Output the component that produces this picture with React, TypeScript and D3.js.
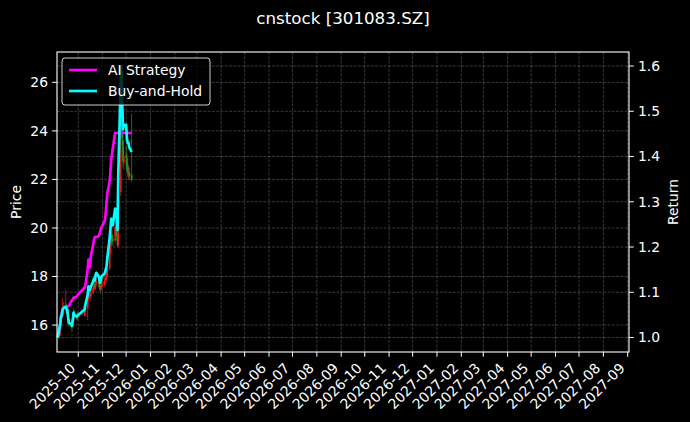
import React from 'react';
import * as d3 from 'd3';

const dates = [
	'2025-09-05', '2025-09-08', '2025-09-09', '2025-09-10', '2025-09-11', '2025-09-12', '2025-09-15', '2025-09-16',
	'2025-09-17', '2025-09-18', '2025-09-19', '2025-09-22', '2025-09-23', '2025-09-24', '2025-09-25', '2025-09-26',
	'2025-09-29', '2025-09-30', '2025-10-09', '2025-10-10', '2025-10-13', '2025-10-14', '2025-10-15', '2025-10-16',
	'2025-10-17', '2025-10-20', '2025-10-21', '2025-10-22', '2025-10-23', '2025-10-24', '2025-10-27', '2025-10-28',
	'2025-10-29', '2025-10-30', '2025-10-31', '2025-11-03', '2025-11-04', '2025-11-05', '2025-11-06', '2025-11-07',
	'2025-11-10', '2025-11-11', '2025-11-12', '2025-11-13', '2025-11-14', '2025-11-17', '2025-11-18', '2025-11-19',
	'2025-11-20', '2025-11-21', '2025-11-24', '2025-11-25', '2025-11-26', '2025-11-27', '2025-11-28', '2025-12-01',
	'2025-12-02', '2025-12-03', '2025-12-04', '2025-12-05', '2025-12-08'
];

const open = [
	15.75, 15.62, 16.05, 16.30, 16.36, 16.55, 16.62, 16.70, 16.62, 16.58, 16.28, 16.10, 16.05, 16.00, 16.20, 16.45,
	16.40, 16.30, 16.40, 16.55, 16.70, 17.10, 17.35, 17.30, 17.20, 17.35, 17.50, 17.65, 17.55, 17.75, 17.85, 17.70,
	17.60, 17.50, 17.60, 17.70, 17.80, 17.85, 17.95, 18.05, 18.35, 19.00, 19.35, 19.70, 19.55, 19.50, 20.05, 19.90,
	19.65, 19.30, 21.50, 24.60, 24.80, 23.60, 22.70, 23.00, 22.90, 22.50, 22.25, 22.30, 22.20
];
const high = [
	15.95, 16.20, 16.60, 16.55, 17.10, 16.95, 17.45, 16.90, 16.80, 16.70, 16.40, 16.25, 16.20, 16.30, 16.70, 16.60,
	16.50, 16.55, 16.80, 16.95, 17.25, 17.60, 17.55, 17.45, 17.50, 17.70, 17.80, 17.75, 17.90, 18.05, 17.95, 17.80,
	17.65, 17.75, 17.90, 17.95, 18.00, 18.10, 18.25, 18.50, 19.20, 19.60, 19.85, 19.90, 19.70, 20.20, 20.30, 20.00,
	19.75, 21.50, 25.46, 26.69, 25.20, 23.90, 23.30, 23.40, 23.10, 22.70, 22.60, 22.50, 24.70
];
const low = [
	15.45, 15.55, 15.98, 16.15, 16.30, 16.40, 16.50, 16.45, 16.40, 16.20, 15.95, 15.85, 15.70, 15.90, 16.15, 16.25,
	16.20, 16.20, 16.35, 16.45, 16.20, 17.00, 17.10, 17.05, 17.00, 17.25, 17.40, 17.45, 17.45, 17.65, 17.55, 17.45,
	17.30, 17.40, 17.50, 17.55, 17.60, 17.70, 17.85, 17.95, 18.25, 18.90, 19.20, 19.35, 19.25, 19.40, 19.80, 19.50,
	19.20, 19.20, 21.30, 24.20, 23.40, 22.50, 22.40, 22.60, 22.30, 22.10, 22.00, 21.95, 21.90
];
const close = [
	15.60, 16.07, 16.32, 16.38, 16.57, 16.61, 16.66, 16.60, 16.55, 16.30, 16.10, 16.07, 16.01, 16.19, 16.46, 16.38,
	16.32, 16.35, 16.57, 16.72, 17.08, 17.36, 17.28, 17.24, 17.35, 17.53, 17.63, 17.57, 17.75, 17.83, 17.71, 17.60,
	17.49, 17.63, 17.72, 17.78, 17.83, 17.94, 18.05, 18.33, 19.03, 19.34, 19.69, 19.50, 19.47, 20.05, 19.94, 19.69,
	19.31, 21.22, 24.34, 24.96, 23.71, 22.78, 22.93, 22.93, 22.46, 22.31, 22.31, 22.15, 22.00
];

const aiReturn = [
	1.000, 1.030, 1.046, 1.050, 1.062, 1.065, 1.068, 1.068, 1.068, 1.070, 1.070, 1.080, 1.082, 1.085, 1.088, 1.088,
	1.090, 1.094, 1.110, 1.115, 1.150, 1.172, 1.160, 1.155, 1.180, 1.205, 1.215, 1.222, 1.222, 1.222, 1.224, 1.228,
	1.235, 1.242, 1.245, 1.255, 1.260, 1.275, 1.297, 1.318, 1.345, 1.365, 1.395, 1.405, 1.418, 1.452, 1.452, 1.452,
	1.452, 1.452, 1.452, 1.452, 1.452, 1.452, 1.452, 1.452, 1.452, 1.452, 1.452, 1.452, 1.452
];
const bhReturn = [
	1.000, 1.030, 1.046, 1.050, 1.062, 1.065, 1.068, 1.064, 1.061, 1.045, 1.032, 1.030, 1.026, 1.038, 1.055, 1.050,
	1.046, 1.048, 1.062, 1.072, 1.095, 1.113, 1.108, 1.105, 1.112, 1.124, 1.130, 1.126, 1.138, 1.143, 1.135, 1.128,
	1.121, 1.130, 1.136, 1.140, 1.143, 1.150, 1.157, 1.175, 1.220, 1.240, 1.262, 1.250, 1.248, 1.285, 1.278, 1.262,
	1.238, 1.360, 1.560, 1.600, 1.520, 1.460, 1.470, 1.470, 1.440, 1.430, 1.430, 1.420, 1.410
];

const priceTicks = [16, 18, 20, 22, 24, 26];
const returnTicks = [1.0, 1.1, 1.2, 1.3, 1.4, 1.5, 1.6];
const seriesNames = ['AI Strategy', 'Buy-and-Hold'];
const seriesColors = ['#ff00ff', '#00ffff'];

class Chart extends React.Component {
	componentDidMount() {
		this.drawChart();
	}

	drawChart() {
		const W = 690;
		const H = 422;
		const left = 57, right = 629, top = 52, bottom = 352;
		const font = '"DejaVu Sans", sans-serif';

		const parse = d3.timeParse('%Y-%m-%d');
		const days = dates.map(d => parse(d) as Date);

		const x = d3.scaleTime()
			.domain([new Date(2025, 8, 3, 22), new Date(2027, 8, 2, 16)])
			.range([left, right]);
		const yPrice = d3.scaleLinear().domain([14.89, 27.25]).range([bottom, top]);
		const yRet = d3.scaleLinear().domain([0.968, 1.631]).range([bottom, top]);

		const root = d3.select('#chart');
		root.selectAll('*').remove();
		const svg = root.append('svg')
			.attr('width', W)
			.attr('height', H)
			.style('position', 'absolute')
			.style('left', 0)
			.style('top', 0)
			.style('font-family', font);

		svg.append('rect').attr('width', W).attr('height', H).attr('fill', '#000');

		const months = d3.timeMonth.range(new Date(2025, 9, 1), new Date(2027, 8, 2));

		// grid
		const grid = svg.append('g')
			.attr('stroke', '#fff')
			.attr('stroke-opacity', 0.28)
			.attr('stroke-width', 0.8)
			.attr('stroke-dasharray', '3,1.3');
		grid.selectAll('.gx').data(months).enter().append('line')
			.attr('x1', d => x(d)).attr('x2', d => x(d))
			.attr('y1', top).attr('y2', bottom);
		grid.selectAll('.gp').data(priceTicks).enter().append('line')
			.attr('x1', left).attr('x2', right)
			.attr('y1', d => yPrice(d)).attr('y2', d => yPrice(d));
		grid.selectAll('.gr').data(returnTicks).enter().append('line')
			.attr('x1', left).attr('x2', right)
			.attr('y1', d => yRet(d)).attr('y2', d => yRet(d));

		// candles (red up, green down)
		const candles = svg.append('g');
		const idx = d3.range(dates.length);
		const col = (i: number) => close[i] >= open[i] ? '#ff1a1a' : '#22a022';
		candles.selectAll('.wick').data(idx).enter().append('line')
			.attr('x1', i => x(days[i])).attr('x2', i => x(days[i]))
			.attr('y1', i => yPrice(high[i])).attr('y2', i => yPrice(low[i]))
			.attr('stroke', col)
			.attr('stroke-width', 0.8)
			.attr('opacity', 0.85);
		candles.selectAll('.body').data(idx).enter().append('line')
			.attr('x1', i => x(days[i])).attr('x2', i => x(days[i]))
			.attr('y1', i => yPrice(Math.max(open[i], close[i])))
			.attr('y2', i => yPrice(Math.min(open[i], close[i])) + 0.5)
			.attr('stroke', col)
			.attr('stroke-width', 1.8)
			.attr('opacity', 0.85);

		// return lines
		const line = d3.line<number>()
			.x((d, i) => x(days[i]))
			.y(d => yRet(d));
		[aiReturn, bhReturn].forEach((s, k) => {
			svg.append('path')
				.attr('d', line(s))
				.attr('fill', 'none')
				.attr('stroke', seriesColors[k])
				.attr('stroke-width', 2.7)
				.attr('stroke-linejoin', 'round');
		});

		// frame
		svg.append('rect')
			.attr('x', left).attr('y', top)
			.attr('width', right - left).attr('height', bottom - top)
			.attr('fill', 'none').attr('stroke', '#fff').attr('stroke-width', 1.1);

		const tickSize = 13.9;

		// left axis
		const la = svg.append('g');
		priceTicks.forEach(t => {
			la.append('line').attr('x1', left - 4.8).attr('x2', left)
				.attr('y1', yPrice(t)).attr('y2', yPrice(t)).attr('stroke', '#fff');
			la.append('text').attr('x', left - 9).attr('y', yPrice(t))
				.attr('dy', '0.35em').attr('text-anchor', 'end')
				.attr('fill', '#fff').attr('font-size', tickSize).text(t);
		});

		// right axis
		const ra = svg.append('g');
		returnTicks.forEach(t => {
			ra.append('line').attr('x1', right).attr('x2', right + 4.8)
				.attr('y1', yRet(t)).attr('y2', yRet(t)).attr('stroke', '#fff');
			ra.append('text').attr('x', right + 9).attr('y', yRet(t))
				.attr('dy', '0.35em').attr('text-anchor', 'start')
				.attr('fill', '#fff').attr('font-size', tickSize).text(t.toFixed(1));
		});

		// bottom axis
		const fmt = d3.timeFormat('%Y-%m');
		const ba = svg.append('g');
		months.forEach(m => {
			const px = x(m);
			ba.append('line').attr('x1', px).attr('x2', px)
				.attr('y1', bottom).attr('y2', bottom + 4.8).attr('stroke', '#fff');
			ba.append('text')
				.attr('transform', `translate(${px - 2},${bottom + 17}) rotate(-45)`)
				.attr('text-anchor', 'end')
				.attr('fill', '#fff').attr('font-size', tickSize).text(fmt(m));
		});

		// axis labels + title
		svg.append('text')
			.attr('transform', `translate(21,${(top + bottom) / 2}) rotate(-90)`)
			.attr('text-anchor', 'middle').attr('fill', '#fff').attr('font-size', tickSize)
			.text('Price');
		svg.append('text')
			.attr('transform', `translate(678,${(top + bottom) / 2}) rotate(-90)`)
			.attr('text-anchor', 'middle').attr('fill', '#fff').attr('font-size', tickSize)
			.text('Return');
		svg.append('text')
			.attr('x', (left + right) / 2).attr('y', 24)
			.attr('text-anchor', 'middle').attr('fill', '#fff').attr('font-size', 16.7)
			.text('cnstock [301083.SZ]');

		// legend
		const lg = svg.append('g');
		lg.append('rect')
			.attr('x', 62).attr('y', 58).attr('width', 148).attr('height', 47).attr('rx', 3)
			.attr('fill', '#000').attr('fill-opacity', 0.8)
			.attr('stroke', '#fff').attr('stroke-opacity', 0.8);
		seriesNames.forEach((n, k) => {
			const ly = 70 + k * 21;
			lg.append('line').attr('x1', 69).attr('x2', 97).attr('y1', ly).attr('y2', ly)
				.attr('stroke', seriesColors[k]).attr('stroke-width', 2.7);
			lg.append('text').attr('x', 108).attr('y', ly).attr('dy', '0.35em')
				.attr('fill', '#fff').attr('font-size', tickSize).text(n);
		});
	}

	render() {
		return (
			<div id="chart" />
		);
	}
}

export default function App() {
	return <Chart />;
}
